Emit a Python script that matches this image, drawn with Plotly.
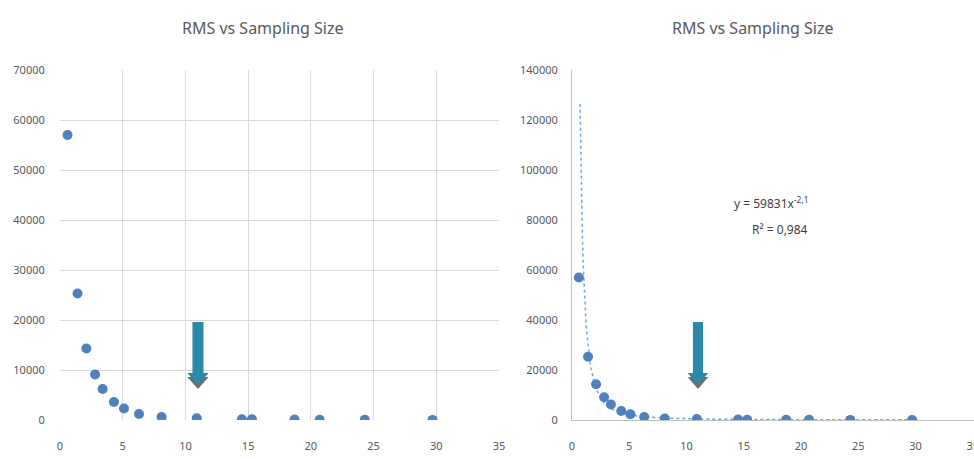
import numpy as np
import plotly.graph_objects as go

# Sampling size vs RMS measurements
sampling_size = [0.6, 1.4, 2.1, 2.8, 3.4, 4.3, 5.1, 6.3, 8.1, 10.9,
                 14.5, 15.3, 18.7, 20.7, 24.3, 29.7]
rms = [57000, 25300, 14300, 9100, 6200, 3600, 2300, 1200, 600, 350,
       150, 130, 100, 60, 40, 20]

# Power trendline y = a * x^b
fit_a = 59831
fit_b = -2.1
fit_r2 = 0.984
fit_x_start = 0.7

left_y_ticks = [0, 10000, 20000, 30000, 40000, 50000, 60000, 70000]
right_y_ticks = [0, 20000, 40000, 60000, 80000, 100000, 120000, 140000]
x_ticks = [0, 5, 10, 15, 20, 25, 30, 35]

title_text = "RMS vs Sampling Size"
marker_color = "#4F81BD"
grey_text = "#595959"
arrow_fill = "#2B88A6"
arrow_shadow = "#6E6E6E"
arrow_x = 11
FONT = "Noto Sans"

fig = go.Figure()

fig.add_trace(go.Scatter(
    x=sampling_size, y=rms, mode="markers",
    marker=dict(color=marker_color, size=10),
    xaxis="x", yaxis="y", showlegend=False))

trend_x = np.linspace(fit_x_start, max(sampling_size), 400)
trend_y = fit_a * trend_x ** fit_b
fig.add_trace(go.Scatter(
    x=trend_x, y=trend_y, mode="lines",
    line=dict(color="#6FA8DC", width=1.5, dash="dot"),
    xaxis="x2", yaxis="y2", showlegend=False))

fig.add_trace(go.Scatter(
    x=sampling_size, y=rms, mode="markers",
    marker=dict(color=marker_color, size=10),
    xaxis="x2", yaxis="y2", showlegend=False))

axis_font = dict(family=FONT, size=11, color=grey_text)

fig.update_layout(
    width=974, height=459, autosize=False,
    margin=dict(l=0, r=0, t=0, b=0, pad=0),
    paper_bgcolor="white", plot_bgcolor="white",
    xaxis=dict(domain=[60 / 974, 499 / 974], range=[0, 35],
               tickvals=x_ticks, showgrid=True, gridcolor="#D9D9D9",
               gridwidth=1, zeroline=False, showline=False,
               ticks="outside", ticklen=16, tickcolor="rgba(0,0,0,0)",
               tickfont=axis_font, anchor="y", automargin=False),
    yaxis=dict(domain=[1 - 420 / 459, 1 - 70 / 459], range=[0, 70000],
               tickvals=left_y_ticks, tickformat="d", showgrid=True,
               gridcolor="#D9D9D9", zeroline=False, showline=False,
               ticks="outside", ticklen=12, tickcolor="rgba(0,0,0,0)",
               tickfont=axis_font, anchor="x", automargin=False),
    xaxis2=dict(domain=[572 / 974, 1.0], range=[0, 35.1],
                tickvals=x_ticks, showgrid=False, zeroline=False,
                showline=True, linecolor="#BFBFBF", linewidth=1,
                ticks="outside", ticklen=16, tickcolor="rgba(0,0,0,0)",
                tickfont=axis_font, anchor="y2", automargin=False,
                ticklabeloverflow="allow"),
    yaxis2=dict(domain=[1 - 420 / 459, 1 - 70 / 459], range=[0, 140000],
                tickvals=right_y_ticks, tickformat="d", showgrid=False,
                zeroline=False, showline=True, linecolor="#BFBFBF",
                linewidth=1, ticks="outside", ticklen=11,
                tickcolor="rgba(0,0,0,0)", tickfont=axis_font,
                anchor="x2", automargin=False),
)

# Chart titles
for cx in (263, 753):
    fig.add_annotation(text=title_text, xref="paper", yref="paper",
                       x=cx / 974, y=1 - 28 / 459, showarrow=False,
                       xanchor="center", yanchor="middle",
                       font=dict(family=FONT, size=16, color=grey_text))

# Trendline equation
fig.add_annotation(text=f"y = {fit_a}x<sup>{str(fit_b).replace('.', ',')}</sup>",
                   xref="paper", yref="paper", x=810 / 974, y=1 - 203 / 459,
                   showarrow=False, font=dict(family=FONT, size=12, color="#404040"))
fig.add_annotation(text=f"R² = {str(fit_r2).replace('.', ',')}",
                   xref="paper", yref="paper", x=810 / 974, y=1 - 230 / 459,
                   showarrow=False, font=dict(family=FONT, size=12, color="#404040"))


def block_arrow(xref, yref, x, top, neck, tip, shaft_hw, head_hw, shadow_dy):
    shaft = (f"M {x - shaft_hw},{top} L {x + shaft_hw},{top} "
             f"L {x + shaft_hw},{neck} L {x - shaft_hw},{neck} Z")
    shadow = (f"M {x - head_hw},{neck - shadow_dy} L {x + head_hw},{neck - shadow_dy} "
              f"L {x},{tip - shadow_dy} Z")
    head = (f"M {x - head_hw},{neck} L {x + head_hw},{neck} L {x},{tip} Z")
    fig.add_shape(type="path", path=shadow, xref=xref, yref=yref,
                  fillcolor=arrow_shadow, line=dict(width=0), layer="above")
    fig.add_shape(type="path", path=shaft, xref=xref, yref=yref,
                  fillcolor=arrow_fill, line=dict(width=0), layer="above")
    fig.add_shape(type="path", path=head, xref=xref, yref=yref,
                  fillcolor=arrow_fill, line=dict(width=0), layer="above")


block_arrow("x", "y", arrow_x, 19600, 9400, 7000, 0.44, 0.85, 800)
block_arrow("x2", "y2", arrow_x, 39200, 18800, 14000, 0.44, 0.9, 1600)

fig.write_html("out.html")
